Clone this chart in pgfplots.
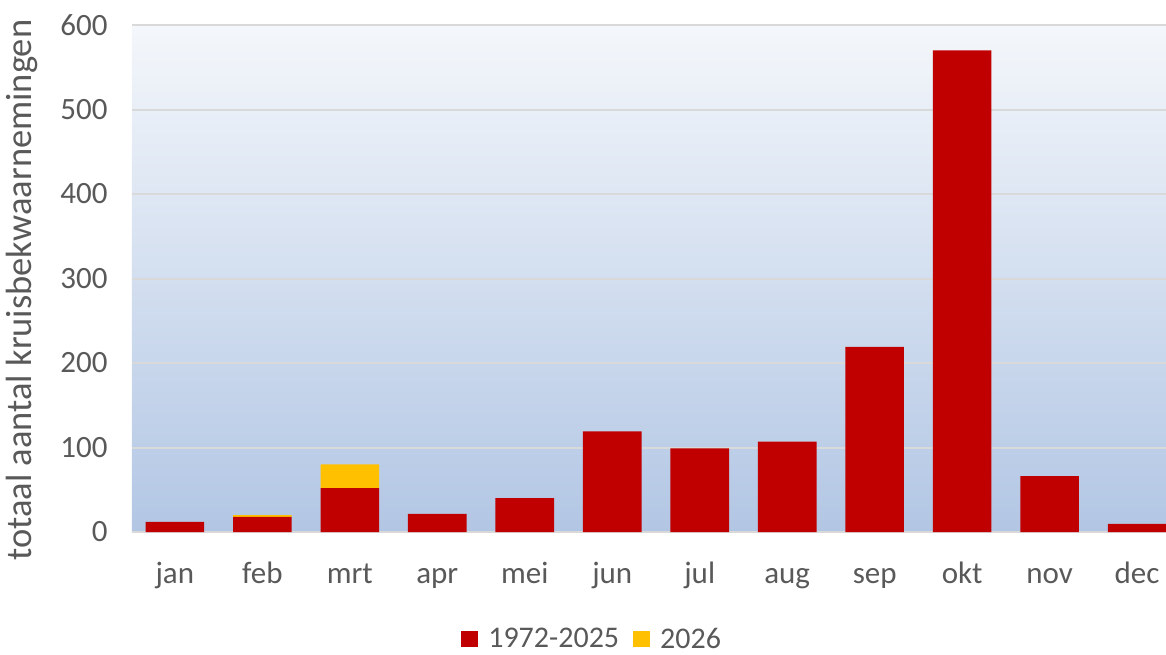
\documentclass[border=0pt]{standalone}
\usepackage{fontspec}
\setmainfont{Carlito}
\usepackage{pgfplots}
\pgfplotsset{compat=1.18}
\definecolor{cred}{HTML}{C00000}
\definecolor{cyel}{HTML}{FFC000}
\definecolor{ctxt}{HTML}{595959}
\definecolor{cgrid}{HTML}{D9D9D9}
\definecolor{bgtop}{HTML}{F4F7FB}
\definecolor{bgbot}{HTML}{B2C6E4}
\begin{document}
\begin{tikzpicture}[x=1pt,y=1pt]
\path[use as bounding box] (-132,-122) rectangle (1034,532);
\begin{axis}[
  at={(0,0)}, anchor=south west,
  scale only axis, width=1034pt, height=507pt,
  ybar stacked, bar width=0.67,
  xmin=-0.49, xmax=11.33,
  ymin=0, ymax=600,
  ytick={0,100,...,600},
  xtick={0,...,11},
  xticklabels={jan,feb,mrt,apr,mei,jun,jul,aug,sep,okt,nov,dec},
  axis line style={draw=none},
  major tick length=0pt,
  ymajorgrids, grid style={cgrid, line width=2pt},
  axis background/.style={shade, top color=bgtop, bottom color=bgbot},
  tick label style={font=\fontsize{31}{36}\selectfont, text=ctxt},
  /pgf/number format/assume math mode=true,
  yticklabel style={xshift=-21pt},
  xticklabel style={anchor=base, yshift=-51pt},
  ylabel={totaal aantal kruisbekwaarnemingen},
  ylabel style={font=\fontsize{36.5}{42}\selectfont, text=ctxt, at={(ticklabel cs:0.477)}, yshift=16pt},
  legend style={at={(0.445,-0.211)}, anchor=center, draw=none, fill=none,
    font=\fontsize{30}{34}\selectfont, text=ctxt, legend columns=2,
    /tikz/every even column/.append style={column sep=12pt}},
  legend image code/.code={\fill[#1] (0pt,-8pt) rectangle (17pt,8pt); \path (25pt,0pt);},
  clip=true,
]
\addplot[fill=cred, draw=none] coordinates {
(0,12) (1,18) (2,52) (3,21.5) (4,40) (5,119) (6,99) (7,107) (8,219) (9,570) (10,66) (11,9.5)};
\addplot[fill=cyel, draw=none] coordinates {
(0,0) (1,2) (2,28) (3,0) (4,0) (5,0) (6,0) (7,0) (8,0) (9,0) (10,0) (11,0)};
\legend{1972-2025,2026}
\end{axis}
\end{tikzpicture}
\end{document}
